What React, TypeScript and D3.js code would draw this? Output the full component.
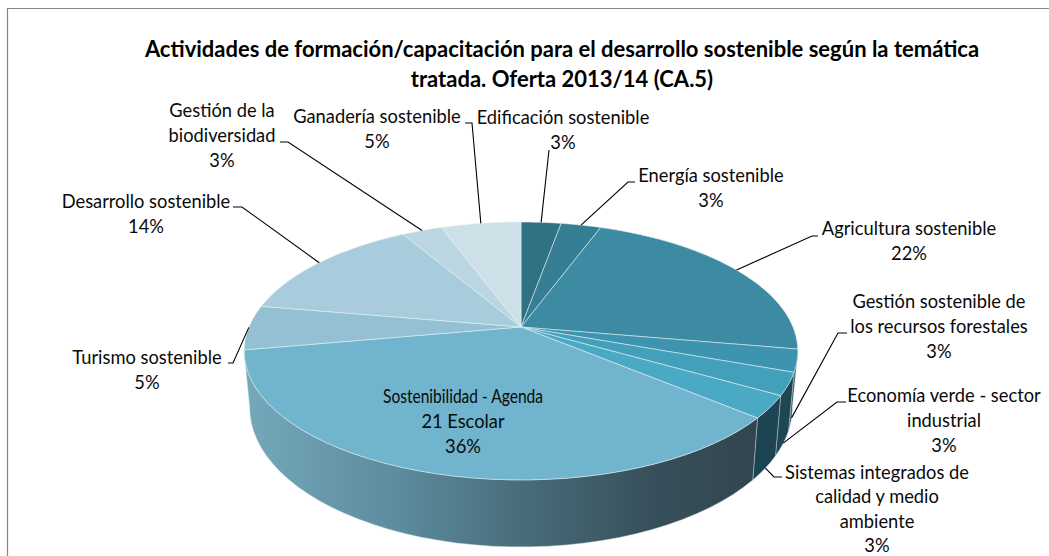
import * as d3 from "d3";
import React from "react";

const categories = [
  "Edificación sostenible",
  "Energía sostenible",
  "Agricultura sostenible",
  "Gestión sostenible de los recursos forestales",
  "Economía verde - sector industrial",
  "Sistemas integrados de calidad y medio ambiente",
  "Sostenibilidad - Agenda 21 Escolar",
  "Turismo sostenible",
  "Desarrollo sostenible",
  "Gestión de la biodiversidad",
  "Ganadería sostenible",
];
// slice sizes
const values = [2.8, 2.8, 22.2, 2.8, 2.8, 2.8, 36.1, 5.6, 13.9, 2.8, 5.6];
const topColors = [
  "#2f7284", "#357e93", "#3c8ba3", "#3e93ae", "#43a0bb", "#4aa9c5",
  "#70b4cd", "#93c1d3", "#a8ccdb", "#bbd5e1", "#cde0e8",
];
const sideColors = [
  "#1f4855", "#1f4855", "#24525f", "#2a5a68", "#1f4653", "#1d4452",
  "url(#sideGrad)", "#7bacbc", "#7bacbc", "#7bacbc", "#7bacbc",
];

const W = 1049;
const H = 556;

// label layout: wrapped lines, centre x, first baseline
const labelLayout: { lines: string[]; x: number; y: number; step?: number; fit?: number }[] = [
  { lines: ["Edificación sostenible", "3%"], x: 563, y: 124 },
  { lines: ["Energía sostenible", "3%"], x: 711, y: 182 },
  { lines: ["Agricultura sostenible", "22%"], x: 909, y: 235 },
  { lines: ["Gestión sostenible de", "los recursos forestales", "3%"], x: 939, y: 308 },
  { lines: ["Economía verde - sector", "industrial", "3%"], x: 944, y: 402 },
  { lines: ["Sistemas integrados de", "calidad y medio", "ambiente", "3%"], x: 877, y: 479, step: 24.3 },
  // this first line is tighter than the others in the reference
  { lines: ["Sostenibilidad - Agenda", "21 Escolar", "36%"], x: 463, y: 403, fit: 160 },
  { lines: ["Turismo sostenible", "5%"], x: 147, y: 364 },
  { lines: ["Desarrollo sostenible", "14%"], x: 146, y: 208 },
  { lines: ["Gestión de la", "biodiversidad", "3%"], x: 222, y: 117 },
  { lines: ["Ganadería sostenible", "5%"], x: 377, y: 123 },
];

// where each leader line bends; side = leader starts on the lower rim
const leaderLayout: ({ pts: [number, number][]; side?: boolean } | null)[] = [
  { pts: [[549, 150]] },
  { pts: [[628, 182], [635, 182]] },
  { pts: [[812, 236], [818, 236]] },
  { pts: [[838, 333], [847, 333]], side: true },
  { pts: [[837, 402], [846, 402]], side: true },
  { pts: [[774, 477], [782, 477]], side: true },
  null,
  { pts: [[233, 363], [228, 363]] },
  { pts: [[242, 207], [233, 207]] },
  { pts: [[288, 142], [280, 142]] },
  { pts: [[472, 123], [465, 123]] },
];

// perspective of the tilted disc
const cx = 521;
const apexY = 327;
const R = 272;
const B = 124.5;
const K = 0.186;
const DEPTH = 54.5;

const project = (a: number, low = false): [number, number] => {
  const u = Math.sin(a);
  const v = Math.cos(a);
  const w = 1 + K * v;
  const x = (R * u) / w;
  const y = apexY - (B * v) / w;
  return low ? [cx + x * 0.98, y + DEPTH / w] : [cx + x, y];
};

const arcPoints = (a0: number, a1: number, low = false) =>
  d3.range(0, 41).map((i) => project(a0 + ((a1 - a0) * i) / 40, low));

const pathLine = d3.line();

const arcs = d3
  .pie<number>()
  .sort(null)
  .value((d) => d)(values);

// only the front of the wall can be seen
const SIDE_START = (100.7 * Math.PI) / 180;
const SIDE_END = (259.3 * Math.PI) / 180;

const App = () => {
  return (
    <svg
      width={W}
      height={H}
      style={{ position: "absolute", left: 0, top: 0, background: "#fff" }}
      fontFamily="Lato, Carlito, sans-serif"
    >
      <defs>
        <linearGradient id="sideGrad" gradientUnits="userSpaceOnUse" x1={246} x2={750} y1={0} y2={0}>
          <stop offset="0" stopColor="#74a8ba" />
          <stop offset="0.3" stopColor="#5c8c9e" />
          <stop offset="0.55" stopColor="#486c79" />
          <stop offset="0.8" stopColor="#37505c" />
          <stop offset="1" stopColor="#33464f" />
        </linearGradient>
      </defs>

      <path d={`M7.5,${H}V8.5H${W}`} fill="none" stroke="#868686" strokeWidth={1.2} />

      <g fontSize={22} fontWeight={700} textAnchor="middle" fill="#000">
        <text x={562} y={57}>
          Actividades de formación/capacitación para el desarrollo sostenible según la temática
        </text>
        <text x={562} y={87}>
          tratada. Oferta 2013/14 (CA.5)
        </text>
      </g>

      {/* wall */}
      {arcs.map((d, i) => {
        const a0 = Math.max(d.startAngle, SIDE_START);
        const a1 = Math.min(d.endAngle, SIDE_END);
        if (a1 <= a0) return null;
        const pts = [...arcPoints(a0, a1), ...arcPoints(a0, a1, true).reverse()];
        return (
          <path
            key={categories[i]}
            d={pathLine(pts) + "Z"}
            fill={sideColors[i]}
            stroke="#c9d6db"
            strokeOpacity={0.55}
            strokeWidth={0.8}
          />
        );
      })}

      {/* top */}
      {arcs.map((d, i) => {
        const pts = [[cx, apexY] as [number, number], ...arcPoints(d.startAngle, d.endAngle)];
        return (
          <path
            key={categories[i]}
            d={pathLine(pts) + "Z"}
            fill={topColors[i]}
            stroke="#e6f0f4"
            strokeOpacity={0.7}
            strokeWidth={0.8}
          />
        );
      })}

      {/* leader lines */}
      {arcs.map((d, i) => {
        const lay = leaderLayout[i];
        if (!lay) return null;
        const start = project((d.startAngle + d.endAngle) / 2, lay.side);
        return (
          <path
            key={categories[i]}
            d={pathLine([start, ...lay.pts]) ?? ""}
            fill="none"
            stroke="#000"
            strokeWidth={1.1}
          />
        );
      })}

      {/* labels */}
      <g fontSize={18.3} textAnchor="middle" fill="#0a0a0a">
        {labelLayout.map((l, i) =>
          l.lines.map((t, j) => (
            <text
              key={`${categories[i]}-${j}`}
              x={l.x}
              y={l.y + j * (l.step ?? 24.8)}
              textLength={j === 0 && l.fit ? l.fit : undefined}
              lengthAdjust={j === 0 && l.fit ? "spacingAndGlyphs" : undefined}
            >
              {t}
            </text>
          )),
        )}
      </g>
    </svg>
  );
};

export default App;
